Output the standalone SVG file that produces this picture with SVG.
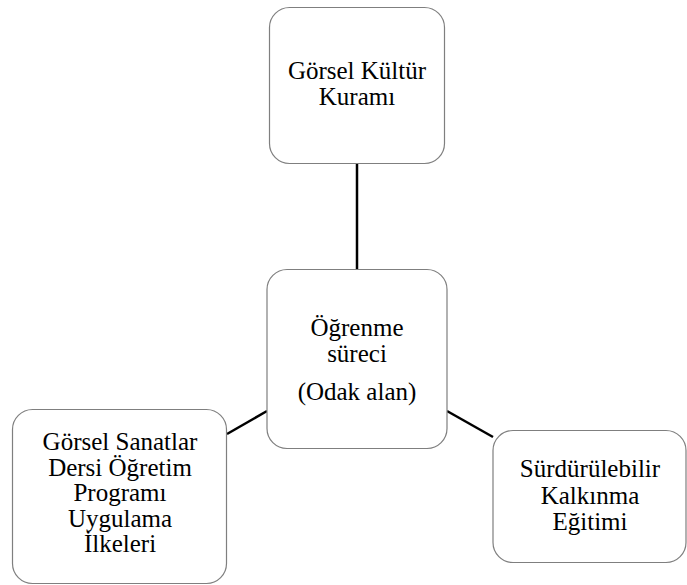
<svg xmlns="http://www.w3.org/2000/svg" width="687" height="585" viewBox="0 0 687 585">
<style>
.box{fill:#ffffff;stroke:#7f7f7f;stroke-width:1.2}
.lbl{font-family:"Liberation Serif","Times New Roman",serif;font-size:25px;fill:#000;text-anchor:middle}
.con{stroke:#000;stroke-width:2.5;fill:none}
</style>
<rect width="687" height="585" fill="#ffffff"/>
<g id="connectors">
<line class="con" x1="357" y1="163" x2="357" y2="269"/>
<line class="con" x1="227" y1="434" x2="267" y2="411"/>
<line class="con" x1="447" y1="411" x2="493" y2="437"/>
</g>
<g id="node-top">
<rect class="box" x="269.5" y="7.5" width="175" height="156" rx="20"/>
<text class="lbl" x="357" y="79"><tspan x="357" y="79">Görsel Kültür</tspan><tspan x="357" y="105">Kuramı</tspan></text>
</g>
<g id="node-center">
<rect class="box" x="267" y="269.5" width="180" height="179" rx="20"/>
<text class="lbl" x="357" y="336"><tspan x="357" y="336">Öğrenme</tspan><tspan x="357" y="362">süreci</tspan></text>
<text class="lbl" x="357" y="400">(Odak alan)</text>
</g>
<g id="node-left">
<rect class="box" x="12.5" y="409.5" width="214" height="174" rx="20"/>
<text class="lbl" x="120" y="450"><tspan x="120" y="450">Görsel Sanatlar</tspan><tspan x="120" y="475.5">Dersi Öğretim</tspan><tspan x="120" y="501">Programı</tspan><tspan x="120" y="526.5">Uygulama</tspan><tspan x="120" y="552">İlkeleri</tspan></text>
</g>
<g id="node-right">
<rect class="box" x="493" y="430.5" width="193" height="132" rx="20"/>
<text class="lbl" x="590" y="477"><tspan x="590" y="477">Sürdürülebilir</tspan><tspan x="590" y="503.5">Kalkınma</tspan><tspan x="590" y="530">Eğitimi</tspan></text>
</g>
</svg>
